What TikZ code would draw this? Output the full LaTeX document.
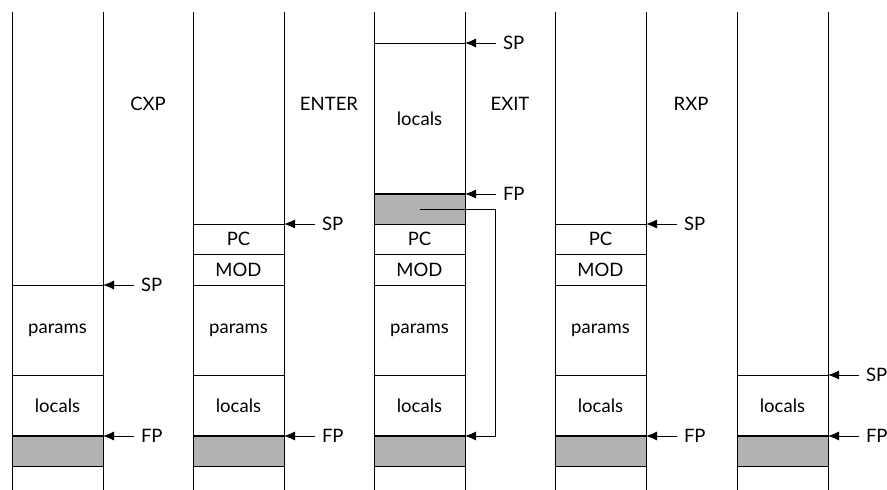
\documentclass[tikz,border=0pt]{standalone}
\usepackage{fontspec}
\setmainfont{Lato}
\usetikzlibrary{arrows.meta}
\begin{document}
\begin{tikzpicture}[x=1pt,y=-1pt,
  every node/.style={font=\fontsize{18.5}{21}\selectfont},
  cell/.style={draw, line width=0.8pt, minimum width=91pt, inner sep=0pt, outer sep=0pt, anchor=north west},
  grey/.style={cell, fill=black!30, minimum height=30pt},
  ptr/.style={anchor=west, inner xsep=7pt, inner ysep=0pt, outer sep=0pt},
  arr/.style={-{Latex[length=11pt,width=9pt]}, line width=0.8pt},
  stackline/.style={line width=0.8pt},
  col/.style={}]
\useasboundingbox (0,0) rectangle (887,490);
% stack edges
\foreach \x in {12,193,374,555,737}{
  \draw[stackline] (\x,12) -- (\x,490);
  \draw[stackline] (\x+91,12) -- (\x+91,490);
}
% column labels
\node[col] (cxp) at (148,104) {CXP};
\node[col] (enter) at (329,104) {ENTER};
\node[col] (exit) at (510,104) {EXIT};
\node[col] (rxp) at (691,104) {RXP};

% stack 1
\node[cell, minimum height=90pt] (a1) at (12,285) {params};
\node[cell, minimum height=61pt] (a2) at (12,375) {locals};
\node[grey] (a3) at (12,436) {};
% stack 2
\node[cell, minimum height=30pt] (b1) at (193,224) {PC};
\node[cell, minimum height=31pt] (b2) at (193,254) {MOD};
\node[cell, minimum height=90pt] (b3) at (193,285) {params};
\node[cell, minimum height=61pt] (b4) at (193,375) {locals};
\node[grey] (b5) at (193,436) {};
% stack 3
\node[cell, minimum height=151pt] (c0) at (374,43) {locals};
\node[grey] (cg) at (374,194) {};
\node[cell, minimum height=30pt] (c1) at (374,224) {PC};
\node[cell, minimum height=31pt] (c2) at (374,254) {MOD};
\node[cell, minimum height=90pt] (c3) at (374,285) {params};
\node[cell, minimum height=61pt] (c4) at (374,375) {locals};
\node[grey] (c5) at (374,436) {};
% stack 4
\node[cell, minimum height=30pt] (d1) at (555,224) {PC};
\node[cell, minimum height=31pt] (d2) at (555,254) {MOD};
\node[cell, minimum height=90pt] (d3) at (555,285) {params};
\node[cell, minimum height=61pt] (d4) at (555,375) {locals};
\node[grey] (d5) at (555,436) {};
% stack 5
\node[cell, minimum height=61pt] (e4) at (737,375) {locals};
\node[grey] (e5) at (737,436) {};

% FP lines thicker
\foreach \n in {a3,b5,cg,c5,d5,e5}{
  \draw[line width=1.3pt] (\n.north west) -- (\n.north east);
}

% pointers
\node[ptr] (spa) at (134,285) {SP};
\node[ptr] (fpa) at (134,436) {FP};
\draw[arr] (spa.west) -- (a1.north east);
\draw[arr] (fpa.west) -- (a3.north east);

\node[ptr] (spb) at (315,224) {SP};
\node[ptr] (fpb) at (315,436) {FP};
\draw[arr] (spb.west) -- (b1.north east);
\draw[arr] (fpb.west) -- (b5.north east);

\node[ptr] (spc) at (496,43) {SP};
\node[ptr] (fpc) at (496,194) {FP};
\draw[arr] (spc.west) -- (c0.north east);
\draw[arr] (fpc.west) -- (cg.north east);

\node[ptr] (spd) at (677,224) {SP};
\node[ptr] (fpd) at (677,436) {FP};
\draw[arr] (spd.west) -- (d1.north east);
\draw[arr] (fpd.west) -- (d5.north east);

\node[ptr] (spe) at (859,375) {SP};
\node[ptr] (fpe) at (859,436) {FP};
\draw[arr] (spe.west) -- (e4.north east);
\draw[arr] (fpe.west) -- (e5.north east);

% saved frame pointer link
\coordinate (bend) at (495,436);
\draw[arr] (cg.center) -| (bend) -- (c5.north east);
\end{tikzpicture}
\end{document}
